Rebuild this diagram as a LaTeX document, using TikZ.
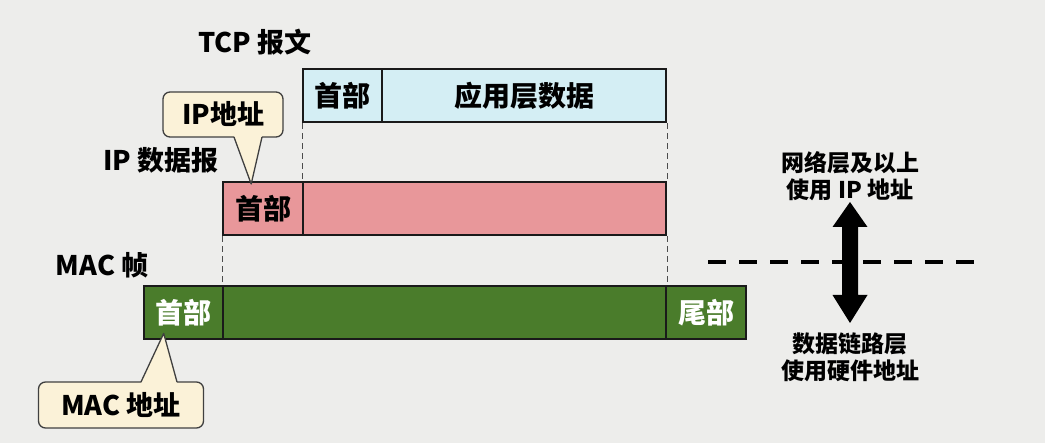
\documentclass[tikz,border=0pt]{standalone}
\usepackage{fontspec}
\setmainfont{Noto Sans CJK SC}
\usetikzlibrary{calc}
\definecolor{bg}{HTML}{EDEDEB}
\definecolor{tcpc}{HTML}{D4EEF4}
\definecolor{ipc}{HTML}{E8979A}
\definecolor{macc}{HTML}{4A7C2B}
\definecolor{cream}{HTML}{FBF2D8}
\definecolor{edge}{HTML}{1A1A1A}
\tikzset{
  seg/.style={draw=edge, line width=2.4pt, anchor=north west, minimum height=53pt, inner sep=0pt, font=\fontsize{28}{30}\selectfont\bfseries},
  tcpseg/.style={seg, fill=tcpc},
  ipseg/.style={seg, fill=ipc},
  macseg/.style={seg, fill=macc, text=white},
  lbl/.style={font=\fontsize{27}{29}\selectfont\bfseries, inner sep=0pt},
  side/.style={font=\fontsize{23}{27}\selectfont\bfseries, align=center, inner sep=0pt},
  guide/.style={draw=black!70, line width=0.9pt, dash pattern=on 6pt off 4pt},
  calloutbox/.style={draw=black!75, line width=1.3pt, fill=cream, rounded corners=7pt, inner sep=0pt, font=\fontsize{27}{29}\selectfont\bfseries},
}
\begin{document}
\begin{tikzpicture}[x=1pt,y=-1pt]
\useasboundingbox (0,0) rectangle (1045,443);
\fill[bg] (0,0) rectangle (1045,443);

% TCP segment
\node[tcpseg, minimum width=79pt] (tcph) at (302,68) {首部};
\node[tcpseg, minimum width=284pt] (tcpd) at (381,68) {应用层数据};
% IP datagram
\node[ipseg, minimum width=80pt] (iph) at (222,181) {首部};
\node[ipseg, minimum width=363pt] (ipd) at (302,181) {};
% MAC frame
\node[macseg, minimum width=79pt] (mach) at (143,285) {首部};
\node[macseg, minimum width=443pt] (macd) at (222,285) {};
\node[macseg, minimum width=80pt] (mact) at (665,285) {尾部};

% labels
\node[lbl] (ltcp) at (255,42) {TCP 报文};
\node[lbl] (lip) at (161,160) {IP 数据报};
\node[lbl] (lmac) at (102,265) {MAC 帧};

% guide lines
\draw[guide] (tcph.south west) -- (ipd.north west);
\draw[guide] (tcpd.south east) -- (ipd.north east);
\draw[guide] (iph.south west) -- (macd.north west);
\draw[guide] (ipd.south east) -- (macd.north east);

% callouts
\node[calloutbox, minimum width=120pt, minimum height=45pt] (ipaddr) at (223,114.5) {IP地址};
\coordinate (iptip) at ($(iph.north)+(-12,3)$);
\fill[cream] ($(ipaddr.south)+(11,-2)$) -- (iptip) -- ($(ipaddr.south)+(39,-2)$) -- cycle;
\draw[black!75, line width=1.3pt, line join=round] ($(ipaddr.south)+(11,-0.6)$) -- (iptip) -- ($(ipaddr.south)+(39,-0.6)$);

\node[calloutbox, minimum width=165pt, minimum height=46pt] (macaddr) at (121,405) {MAC 地址};
\coordinate (mactip) at ($(mach.south)+(-20,-7)$);
\fill[cream] ($(macaddr.north)+(20,2)$) -- (mactip) -- ($(macaddr.north)+(56,2)$) -- cycle;
\draw[black!75, line width=1.3pt, line join=round] ($(macaddr.north)+(20,0.6)$) -- (mactip) -- ($(macaddr.north)+(56,0.6)$);

% right side
\coordinate (dl) at (708,262);
\coordinate (dr) at (975,262);
\draw[black, line width=4pt, dash pattern=on 18pt off 13pt] (dl) -- (dr);
\node[side] (up) at (850,176) {网络层及以上\\使用 IP 地址};
\node[side] (down) at (850,357) {数据链路层\\使用硬件地址};
\fill[black] (850,202) -- (867.5,227) -- (858,227) -- (858,295) -- (867.5,295) -- (850,323)
  -- (832.5,295) -- (842,295) -- (842,227) -- (832.5,227) -- cycle;
\end{tikzpicture}
\end{document}
